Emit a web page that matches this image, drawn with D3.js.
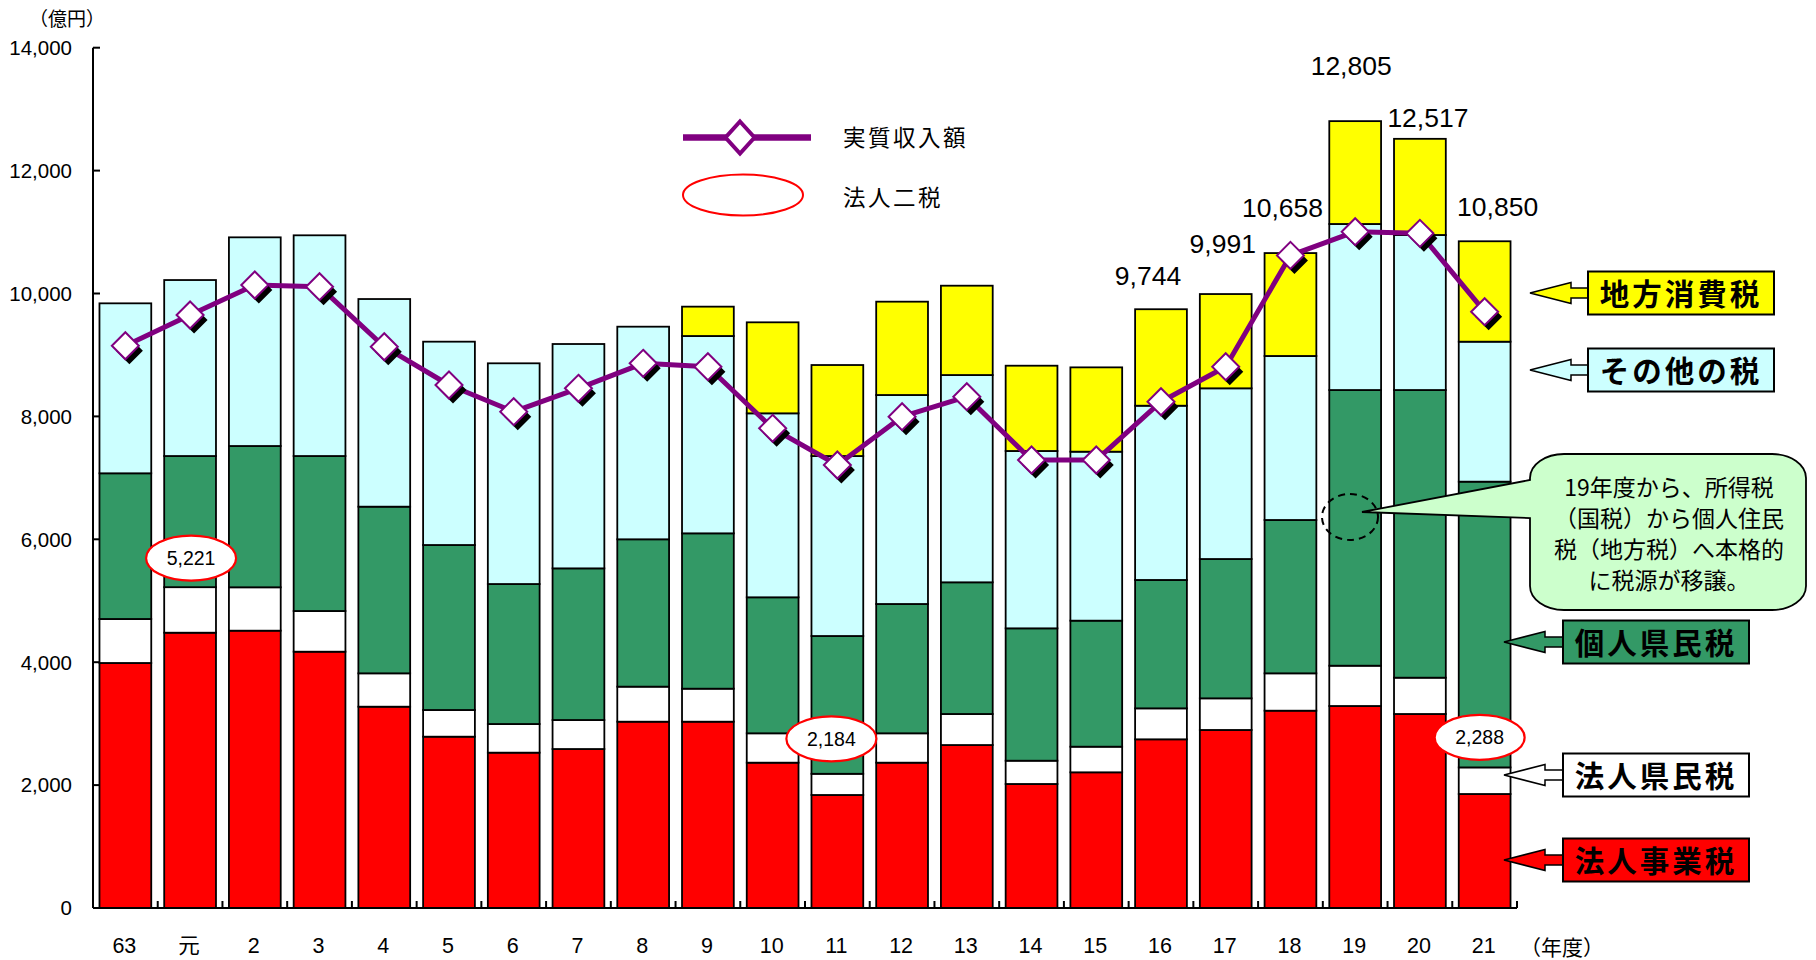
<!DOCTYPE html>
<html><head><meta charset="utf-8">
<script src="https://cdn.jsdelivr.net/npm/d3@7"></script>
<style>body{margin:0;background:#fff}</style>
</head><body>
<svg id="c" width="1816" height="960"></svg>
<script>
// ---------------- data ----------------
const categories = ["63","元","2","3","4","5","6","7","8","9","10","11","12","13","14","15","16","17","18","19","20","21"];
const hojinJigyo  = [3987,4480,4513,4171,3276,2788,2528,2587,3032,3032,2365,1839,2365,2652,2018,2208,2745,2897,3211,3287,3157,1855]; // 法人事業税
const hojinKenmin = [716,741,706,662,543,434,466,472,570,537,478,345,478,505,379,417,504,515,608,656,591,433];                   // 法人県民税
const kojinKenmin = [2371,2134,2299,2522,2712,2685,2278,2468,2398,2528,2213,2242,2104,2143,2154,2051,2089,2267,2495,4486,4681,4650]; // 個人県民税
const sonota      = [2766,2864,3396,3592,3379,3309,3592,3651,3460,3211,2994,2929,3401,3373,2886,2750,2836,2778,2669,2702,2523,2278]; // その他の税
const chihoShohi  = [0,0,0,0,0,0,0,0,0,478,1481,1481,1519,1454,1388,1372,1570,1534,1675,1674,1565,1634];                        // 地方消費税
const jisshitsu   = [9150,9650,10138,10111,9134,8511,8077,8457,8864,8809,7806,7209,7995,8321,7290,7290,8239,8809,10620,11006,10979,9704]; // 実質収入額
const yTicks = [0,2000,4000,6000,8000,10000,12000,14000];
const seriesNames = ["法人事業税","法人県民税","個人県民税","その他の税","地方消費税"];
const seriesColors = ["#FF0000","#FFFFFF","#339966","#CCFFFF","#FFFF00"];
const totalLabelIdx  = [16,17,18,19,20,21];
const totalLabelVals = [9744,9991,10658,12805,12517,10850];
const nizeiIdx  = [1,11,21];
const nizeiVals = [5221,2184,2288];
const legendNames = ["実質収入額","法人二税"];
const calloutLines = ["19年度から、所得税","（国税）から個人住民","税（地方税）へ本格的","に税源が移譲。"];
const yUnit = "（億円）";
const xUnit = "（年度）";

// ---------------- layout ----------------
const svg = d3.select("#c");
const NUM = "'Liberation Sans', Arial, sans-serif";
const JP = "'Noto Sans CJK JP', sans-serif";
const x = d3.scaleBand().domain(categories).range([93,1517]).paddingInner(0.2).paddingOuter(0.1);
const y = d3.scaleLinear().domain([0,14000]).range([908,47.7]);

const seriesArr = [hojinJigyo,hojinKenmin,kojinKenmin,sonota,chihoShohi];
const table = categories.map((c,i)=>{const o={cat:c}; seriesNames.forEach((n,k)=>o[n]=seriesArr[k][i]); return o;});
const stacked = d3.stack().keys(seriesNames)(table);

// bars
const gBars = svg.append("g");
stacked.forEach((s,k)=>{
  gBars.selectAll(null).data(s.filter(d=>d[1]-d[0]>0)).join("rect")
    .attr("x",d=>x(d.data.cat)).attr("width",x.bandwidth())
    .attr("y",d=>y(d[1])).attr("height",d=>y(d[0])-y(d[1]))
    .attr("fill",seriesColors[k]).attr("stroke","#000").attr("stroke-width",1.8);
});

// axes
const step = x.step();
svg.append("line").attr("x1",93).attr("x2",93).attr("y1",y(14000)).attr("y2",y(0)).attr("stroke","#000").attr("stroke-width",2);
svg.append("line").attr("x1",93).attr("x2",1517).attr("y1",y(0)).attr("y2",y(0)).attr("stroke","#000").attr("stroke-width",2);
yTicks.forEach(t=>{
  svg.append("line").attr("x1",93).attr("x2",100).attr("y1",y(t)).attr("y2",y(t)).attr("stroke","#000").attr("stroke-width",2);
  svg.append("text").attr("x",72).attr("y",y(t)).attr("dy","0.36em").attr("text-anchor","end")
    .attr("font-family",NUM).attr("font-size",20.5).text(d3.format(",")(t));
});
d3.range(categories.length+1).forEach(i=>{
  const xx = 93 + i*step;
  svg.append("line").attr("x1",xx).attr("x2",xx).attr("y1",y(0)).attr("y2",y(0)-7).attr("stroke","#000").attr("stroke-width",2);
});
categories.forEach(c=>{
  svg.append("text").attr("x",x(c)+x.bandwidth()/2-1).attr("y",953).attr("text-anchor","middle")
    .attr("font-family",c==="元"?JP:NUM).attr("font-size",21.5).text(c);
});
svg.append("text").attr("x",67).attr("y",26).attr("text-anchor","middle").attr("font-family",JP).attr("font-size",19).text(yUnit);
svg.append("text").attr("x",1562).attr("y",955).attr("text-anchor","middle").attr("font-family",JP).attr("font-size",21).text(xUnit);

// line series
const cx = i => x(categories[i]) + x.bandwidth()/2;
const lineGen = d3.line().x((d,i)=>cx(i)).y(d=>y(d));
svg.append("path").datum(jisshitsu).attr("d",lineGen).attr("fill","none").attr("stroke","#800080").attr("stroke-width",5).attr("stroke-linejoin","round");
const dm = (px,py,h,w)=>`M${px},${py-h}L${px+w},${py}L${px},${py+h}L${px-w},${py}Z`;
svg.selectAll(null).data(jisshitsu).join("path").attr("d",(d,i)=>dm(cx(i)+4,y(d)+5,13.5,13.5)).attr("fill","#000");
svg.selectAll(null).data(jisshitsu).join("path").attr("d",(d,i)=>dm(cx(i),y(d),13.5,13.5)).attr("fill","#fff").attr("stroke","#800080").attr("stroke-width",2);

// total labels
const totalOffsets = [[-13,-24],[-3,-41],[-8,-36],[-4,-46],[8,-12],[13,-25]];
totalLabelIdx.forEach((idx,k)=>{
  svg.append("text").attr("x",cx(idx)+totalOffsets[k][0]).attr("y",y(totalLabelVals[k])+totalOffsets[k][1])
    .attr("text-anchor","middle").attr("font-family",NUM).attr("font-size",26.5).text(d3.format(",")(totalLabelVals[k]));
});

// 法人二税 ovals
const ovalOffsets = [[1,-29],[-6,-35],[-5,-30]];
nizeiIdx.forEach((idx,k)=>{
  const ox = cx(idx)+ovalOffsets[k][0], oy = y(nizeiVals[k])+ovalOffsets[k][1];
  svg.append("ellipse").attr("cx",ox).attr("cy",oy).attr("rx",45).attr("ry",22.5).attr("fill","#fff").attr("stroke","#FF0000").attr("stroke-width",2.2);
  svg.append("text").attr("x",ox).attr("y",oy).attr("dy","0.36em").attr("text-anchor","middle").attr("font-family",NUM).attr("font-size",19.5).text(d3.format(",")(nizeiVals[k]));
});

// legend
svg.append("line").attr("x1",683).attr("x2",811).attr("y1",137.5).attr("y2",137.5).attr("stroke","#800080").attr("stroke-width",6.5);
svg.append("path").attr("d",dm(740,137.5,16,14.5)).attr("fill","#fff").attr("stroke","#800080").attr("stroke-width",4);
svg.append("ellipse").attr("cx",743).attr("cy",195).attr("rx",60).attr("ry",20.5).attr("fill","#fff").attr("stroke","#FF0000").attr("stroke-width",2);
legendNames.forEach((n,k)=>{
  svg.append("text").attr("x",843).attr("y",[138,198][k]).attr("dy","0.36em").attr("font-family",JP).attr("font-size",22.5).attr("letter-spacing",2.5).text(n);
});

// callout
const cL=1530,cR=1806,cT=454,cB=610,rx=34,ry=24;
const cPath = `M${cL+rx},${cT}H${cR-rx}A${rx},${ry} 0 0 1 ${cR},${cT+ry}V${cB-ry}A${rx},${ry} 0 0 1 ${cR-rx},${cB}H${cL+rx}A${rx},${ry} 0 0 1 ${cL},${cB-ry}V518L1362,512L${cL},480V${cT+ry}A${rx},${ry} 0 0 1 ${cL+rx},${cT}Z`;
svg.append("ellipse").attr("cx",1350).attr("cy",517).attr("rx",28).attr("ry",23).attr("fill","none").attr("stroke","#000").attr("stroke-width",2).attr("stroke-dasharray","7,5");
svg.append("path").attr("d",cPath).attr("fill","#CCFFCC").attr("stroke","#000").attr("stroke-width",1.8);
calloutLines.forEach((t,k)=>{
  svg.append("text").attr("x",1669).attr("y",488+k*31).attr("dy","0.36em").attr("text-anchor","middle").attr("font-family",JP).attr("font-size",23).text(t);
});

// right-side series labels with arrows
const boxes = [
  {k:4, tip:1530, ty:293, bx:1588},
  {k:3, tip:1530, ty:370, bx:1588},
  {k:2, tip:1504, ty:642, bx:1563},
  {k:1, tip:1504, ty:775, bx:1563},
  {k:0, tip:1504, ty:860, bx:1563}
];
boxes.forEach(b=>{
  const hb = b.tip+41;
  const pts = [[b.tip,b.ty],[hb,b.ty-10.5],[hb,b.ty-5],[b.bx+2,b.ty-5],[b.bx+2,b.ty+5],[hb,b.ty+5],[hb,b.ty+10.5]];
  svg.append("path").attr("d","M"+pts.map(p=>p.join(",")).join("L")+"Z").attr("fill",seriesColors[b.k]).attr("stroke","#000").attr("stroke-width",1.5);
  svg.append("rect").attr("x",b.bx).attr("y",b.ty-21.5).attr("width",186).attr("height",43).attr("fill",seriesColors[b.k]).attr("stroke","#000").attr("stroke-width",2);
  svg.append("text").attr("x",b.bx+93).attr("y",b.ty+1).attr("dy","0.36em").attr("text-anchor","middle").attr("font-family",JP).attr("font-weight","bold").attr("font-size",29.5).attr("letter-spacing",3).text(seriesNames[b.k]);
});
</script>
</body></html>
